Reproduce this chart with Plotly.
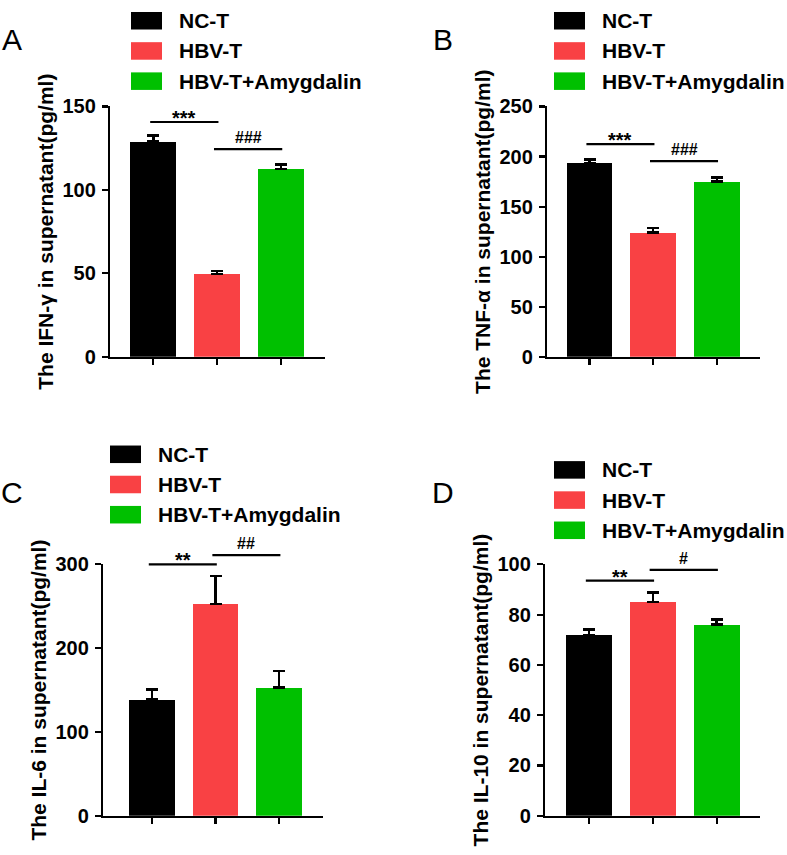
import plotly.graph_objects as go

W, H = 787, 855

# groups / colours
groups = ["NC-T", "HBV-T", "HBV-T+Amygdalin"]
colors = ["#000000", "#F94144", "#00C000"]

# values (mean, SEM)
ifn_mean = [129.0, 49.5, 112.5]
ifn_sem = [3.5, 2.0, 2.8]
tnf_mean = [193.5, 124.0, 175.0]
tnf_sem = [3.5, 4.5, 4.0]
il6_mean = [138.5, 253.0, 153.0]
il6_sem = [12.0, 33.0, 19.5]
il10_mean = [72.0, 85.0, 76.0]
il10_sem = [2.0, 3.8, 2.0]

# significance brackets: (label, from, to, height)
ifn_sig = [("***", 0, 1, 140.7), ("###", 1, 2, 124.5)]
tnf_sig = [("***", 0, 1, 212.4), ("###", 1, 2, 195.5)]
il6_sig = [("**", 0, 1, 300.0), ("##", 1, 2, 311.0)]
il10_sig = [("**", 0, 1, 93.5), ("#", 1, 2, 97.8)]

titles = ["The IFN-γ in supernatant(pg/ml)", "The TNF-α in supernatant(pg/ml)",
          "The IL-6 in supernatant(pg/ml)", "The IL-10 in supernatant(pg/ml)"]
letters = ["A", "B", "C", "D"]
yranges = [150, 250, 300, 100]
dticks = [50, 50, 100, 20]

# layout per panel, in pixels: x domain, y domain (top, bottom), x range, letter, legend
panels = [
    dict(xd=(110, 325), yd=(98, 355), xr=(-0.68, 2.69), let=(12, 29), leg=(131, 10)),
    dict(xd=(547, 760), yd=(98, 355), xr=(-0.67, 2.68), let=(443, 29), leg=(554, 10)),
    dict(xd=(103, 323), yd=(568, 826), xr=(-0.77, 2.69), let=(12, 494), leg=(110, 455)),
    dict(xd=(545, 760), yd=(568, 826), xr=(-0.69, 2.68), let=(443, 494), leg=(554, 471)),
]

means = [ifn_mean, tnf_mean, il6_mean, il10_mean]
sems = [ifn_sem, tnf_sem, il6_sem, il10_sem]
sigs = [ifn_sig, tnf_sig, il6_sig, il10_sig]

FONT = "Liberation Sans, Arial, sans-serif"


def px(x):
    return x / W


def py(y):
    return 1 - y / H


fig = go.Figure()
shapes = []
annotations = []

for k, p in enumerate(panels):
    n = "" if k == 0 else str(k + 1)
    xa, ya = "x" + n, "y" + n
    fig.add_trace(go.Bar(
        x=[0, 1, 2], y=means[k], xaxis=xa, yaxis=ya,
        width=0.72, marker=dict(color=colors, line=dict(width=0)),
        error_y=dict(type="data", array=sems[k], arrayminus=[0, 0, 0], symmetric=False,
                     color="black", thickness=2.5, width=6),
        showlegend=False, hoverinfo="skip",
    ))
    axis_common = dict(showline=True, linecolor="black", linewidth=2.2, ticks="outside",
                       tickcolor="black", tickwidth=2.2, ticklen=6, showgrid=False,
                       zeroline=False, fixedrange=True)
    fig.layout["xaxis" + n] = dict(
        domain=[px(p["xd"][0]), px(p["xd"][1])], range=list(p["xr"]), anchor=ya,
        tickvals=[0, 1, 2], showticklabels=False, **axis_common)
    fig.layout["yaxis" + n] = dict(
        domain=[py(p["yd"][1]), py(p["yd"][0])], range=[0, yranges[k]], anchor=xa,
        dtick=dticks[k], tickfont=dict(family=FONT, size=20, color="black", weight="bold"),
        ticklabelstandoff=2,
        title=dict(text=titles[k], standoff=3,
                   font=dict(family=FONT, size=21, color="black", weight="bold")),
        **axis_common)

    # brackets (positions from category index and value, via the axis ranges)
    x0, x1 = p["xr"]
    for lab, a, b, h in sigs[k]:
        fa = (a - 0.05 - x0) / (x1 - x0)
        fb = (b + 0.02 - x0) / (x1 - x0)
        fy = h / yranges[k]
        shapes.append(dict(type="line", xref=xa + " domain", yref=ya + " domain",
                           x0=fa, x1=fb, y0=fy, y1=fy,
                           line=dict(color="black", width=2.2)))
        star = "*" in lab
        annotations.append(dict(text=lab, xref=xa + " domain", yref=ya + " domain",
                                x=(fa + fb) / 2, y=fy, yanchor="bottom", showarrow=False,
                                yshift=-9 if star else 1,
                                font=dict(family=FONT, size=20 if star else 16,
                                          color="black", weight="bold")))

    # panel letter
    annotations.append(dict(text=letters[k], xref="paper", yref="paper",
                            x=px(p["let"][0]), y=py(p["let"][1]), xanchor="center",
                            yanchor="middle", showarrow=False,
                            font=dict(family=FONT, size=30, color="black")))

    # legend
    lx, ly = p["leg"]
    for i, g in enumerate(groups):
        cy = ly + 31 * i
        shapes.append(dict(type="rect", xref="paper", yref="paper",
                           x0=px(lx), x1=px(lx + 31), y0=py(cy - 9), y1=py(cy + 9),
                           fillcolor=colors[i], line=dict(width=0)))
        annotations.append(dict(text=g, xref="paper", yref="paper",
                                x=px(lx + 46), y=py(cy), xanchor="left", yanchor="middle",
                                showarrow=False,
                                font=dict(family=FONT, size=21, color="black", weight="bold")))

fig.update_layout(
    width=W, height=H, autosize=False,
    margin=dict(l=0, r=0, t=0, b=0),
    paper_bgcolor="white", plot_bgcolor="white",
    shapes=shapes, annotations=annotations,
    bargap=0,
)

# drop the default page margin so the figure sits at the window corner
fig.write_html("out.html", config={"displayModeBar": False, "staticPlot": True},
               post_script="document.body.style.margin='0';document.body.style.overflow='hidden';")
